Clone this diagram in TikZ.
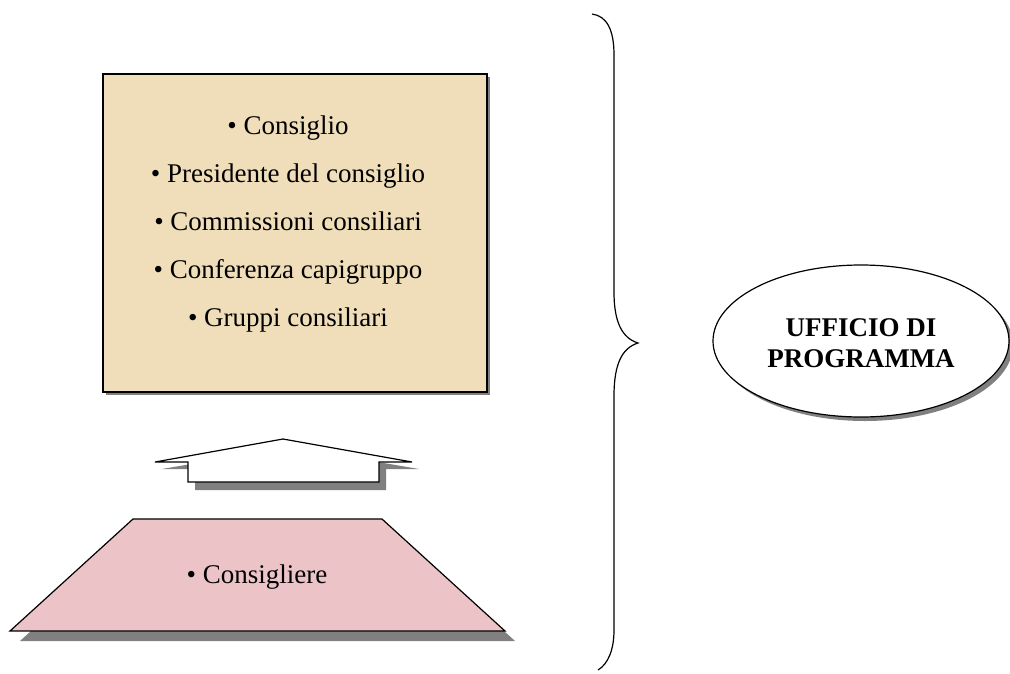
\documentclass[tikz,border=0pt]{standalone}
\usepackage{fontspec}
\setmainfont{Liberation Serif}
\usetikzlibrary{shapes.geometric,shadows}
\definecolor{parch}{RGB}{240,222,186}
\definecolor{rosy}{RGB}{236,196,199}
\definecolor{shad}{RGB}{128,128,128}
\tikzset{
  outline/.style={draw=black,line width=1.2pt,line join=miter},
  body/.style={font=\fontsize{27}{48}\selectfont,align=center,inner sep=0pt},
}
\begin{document}
\begin{tikzpicture}[x=1pt,y=-1pt]
\useasboundingbox (0,0) rectangle (1010,673);
% parchment box
\node[outline,fill=parch,minimum width=384pt,minimum height=318pt,inner sep=0pt,
  drop shadow={shadow xshift=3pt,shadow yshift=-3pt,fill=shad,opacity=1}] (box) at (295,233) {};
\node[body] (list) at (288,224) {\textbullet\ Consiglio\\ \textbullet\ Presidente del consiglio\\ \textbullet\ Commissioni consiliari\\ \textbullet\ Conferenza capigruppo\\ \textbullet\ Gruppi consiliari};
% arrow
\coordinate (tip) at (283,439);
\fill[shad] (290,447) -- (419,469) -- (386,469) -- (386,490) -- (195,490) -- (195,469) -- (162,469) -- cycle;
\draw[outline,fill=white] (tip) -- (412,462) -- (379,462) -- (379,482) -- (188,482) -- (188,462) -- (155,462) -- cycle;
% trapezoid
\fill[shad] (143,529) -- (392,529) -- (515,641) -- (20,641) -- cycle;
\draw[outline,fill=rosy] (133,519) -- (382,519) -- (505,631) -- (10,631) -- cycle;
\node[body] (cons) at (257,577) {\textbullet\ Consigliere};
% brace
\draw[line width=1.2pt] (592,14) .. controls (607,16) and (614,30) .. (614,55)
  -- (614,292) .. controls (614,322) and (622,338) .. (638,343)
  .. controls (622,348) and (614,364) .. (614,396)
  -- (614,630) .. controls (614,650) and (608,664) .. (598,670);
% ellipse
\node[ellipse,outline,fill=white,minimum width=296pt,minimum height=152pt,inner sep=0pt,
  drop shadow={shadow xshift=4pt,shadow yshift=-4pt,fill=shad,opacity=1}] (uff) at (861,341) {};
\node[font=\fontsize{27}{31}\selectfont\bfseries,align=center,inner sep=0pt] (ufft) at (861,343) {UFFICIO DI\\PROGRAMMA};
\end{tikzpicture}
\end{document}
